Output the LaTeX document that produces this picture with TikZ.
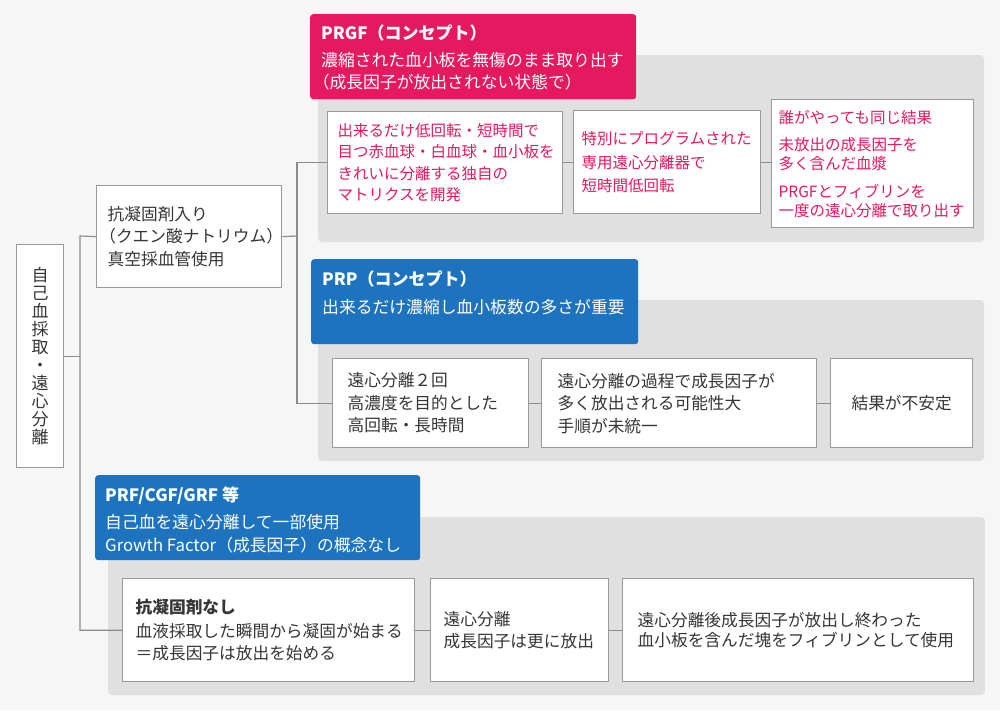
\documentclass[tikz,border=0pt]{standalone}
\usepackage{fontspec}
\setmainfont{Noto Sans CJK JP}
\definecolor{bgc}{HTML}{F6F6F6}
\definecolor{panelc}{HTML}{E0E0E0}
\definecolor{pinkc}{HTML}{E5195F}
\definecolor{bluec}{HTML}{1E73BE}
\definecolor{boxline}{HTML}{9A9A9A}
\definecolor{connc}{HTML}{8C8C8C}
\definecolor{txt}{HTML}{363636}
\tikzset{
  box/.style={draw=boxline, line width=1.3pt, fill=white, anchor=north west, align=left,
    inner ysep=0pt, text=txt, font=\fontsize{16.7}{22.5}\selectfont},
  pbox/.style={box, text=pinkc, font=\fontsize{15.5}{21.5}\selectfont},
  conn/.style={draw=connc, line width=1.2pt},
  panel/.style={fill=panelc, rounded corners=4pt},
  hdr/.style={rounded corners=3pt, anchor=north west, inner sep=0pt},
  hdrtext/.style={text=white, align=left, anchor=west, inner sep=0pt,
    font=\fontsize{16.8}{22.5}\selectfont},
}
\begin{document}
\begin{tikzpicture}[x=1pt,y=-1pt]
\fill[bgc] (0,0) rectangle (1000,710);
\useasboundingbox (0,0) rectangle (1000,710);
% panels
\fill[panel] (318,55) rectangle (984,242);
\fill[panel] (318,300) rectangle (984,461);
\fill[panel] (108,517) rectangle (985,695);
% headers
\node[hdr, fill=pinkc, minimum width=326pt, minimum height=85pt] (prgfh) at (310,14) {};
\node[hdrtext] (prgft) at (321,57.5) {{\bfseries\fontsize{17}{22.5}\selectfont PRGF（コンセプト）}\\[4.5pt]
  濃縮された血小板を無傷のまま取り出す\\\hspace*{-0.5em}（成長因子が放出されない状態で）};
\node[hdr, fill=bluec, minimum width=327pt, minimum height=85pt] (prph) at (311,259) {};
\node[hdrtext] (prpt) at (322,293) {{\bfseries\fontsize{17}{22.5}\selectfont PRP（コンセプト）}\\[6pt]
  出来るだけ濃縮し血小板数の多さが重要};
\node[hdr, fill=bluec, minimum width=325pt, minimum height=85pt] (prfh) at (95,475) {};
\node[hdrtext] (prft) at (105,520) {{\bfseries\fontsize{17}{22.5}\selectfont PRF/CGF/GRF 等}\\[4.5pt]
  自己血を遠心分離して一部使用\\Growth Factor（成長因子）の概念なし};
% boxes
\node[box, align=center, inner xsep=0pt, minimum width=47pt, minimum height=223pt,
  font=\fontsize{17}{18}\selectfont] (L) at (16,244)
  {自\\己\\血\\採\\取\\・\\遠\\心\\分\\離};
\node[box, minimum width=185pt, minimum height=102pt, inner xsep=11pt, text width=163pt] (B2) at (96,185)
  {抗凝固剤入り\\\hspace*{-0.5em}（クエン酸ナトリウム）\\真空採血管使用};
\node[pbox, minimum width=235pt, minimum height=102pt, inner xsep=10pt, text width=215pt] (a1) at (327,111)
  {出来るだけ低回転・短時間で\\目つ赤血球・白血球・血小板を\\きれいに分離する独自の\\マトリクスを開発};
\node[pbox, minimum width=187pt, minimum height=103pt, inner xsep=8pt, text width=171pt,
  font=\fontsize{15.5}{23.5}\selectfont] (a2) at (573,110)
  {特別にプログラムされた\\専用遠心分離器で\\短時間低回転};
\node[pbox, minimum width=202pt, minimum height=128pt, inner xsep=7pt, text width=188pt,
  font=\fontsize{15.5}{19}\selectfont] (a3) at (771,99)
  {誰がやっても同じ結果\\[8.5pt]未放出の成長因子を\\多く含んだ血漿\\[8.5pt]PRGFとフィブリンを\\一度の遠心分離で取り出す};
\node[box, minimum width=196pt, minimum height=89pt, inner xsep=15pt, text width=166pt] (b1) at (332,358)
  {遠心分離２回\\高濃度を目的とした\\高回転・長時間};
\node[box, minimum width=275pt, minimum height=89pt, inner xsep=16pt, text width=243pt] (b2) at (541,358)
  {遠心分離の過程で成長因子が\\多く放出される可能性大\\手順が未統一};
\node[box, align=center, minimum width=142pt, minimum height=89pt, text width=130pt, inner xsep=6pt] (b3) at (830,358)
  {結果が不安定};
\node[box, minimum width=292pt, minimum height=103pt, inner xsep=13pt, text width=266pt] (c1) at (122,578)
  {{\bfseries 抗凝固剤なし}\\[1pt]血液採取した瞬間から凝固が始まる\\＝成長因子は放出を始める};
\node[box, minimum width=178pt, minimum height=103pt, inner xsep=13pt, text width=152pt] (c2) at (430,578)
  {遠心分離\\成長因子は更に放出};
\node[box, minimum width=351pt, minimum height=103pt, inner xsep=15pt, text width=321pt,
  font=\fontsize{16.7}{20.5}\selectfont] (c3) at (622,578)
  {遠心分離後成長因子が放出し終わった\\血小板を含んだ塊をフィブリンとして使用};
% connectors
\coordinate (t1) at (80,236);
\coordinate (t2) at (297,236);
\draw[conn] (L.east) -- (L.east -| t1);
\draw[conn] (B2.west) -- (t1) |- (c1.west);
\draw[conn] (B2.east) -- (t2);
\draw[conn] (a1.west) -| (t2) |- (b1.west);
\draw[conn] (a1.east) -- (a1.east -| a2.west);
\draw[conn] (a2.east) -- (a2.east -| a3.west);
\draw[conn] (b1.east) -- (b2.west);
\draw[conn] (b2.east) -- (b3.west);
\draw[conn] (c1.east) -- (c2.west);
\draw[conn] (c2.east) -- (c3.west);
\end{tikzpicture}
\end{document}
